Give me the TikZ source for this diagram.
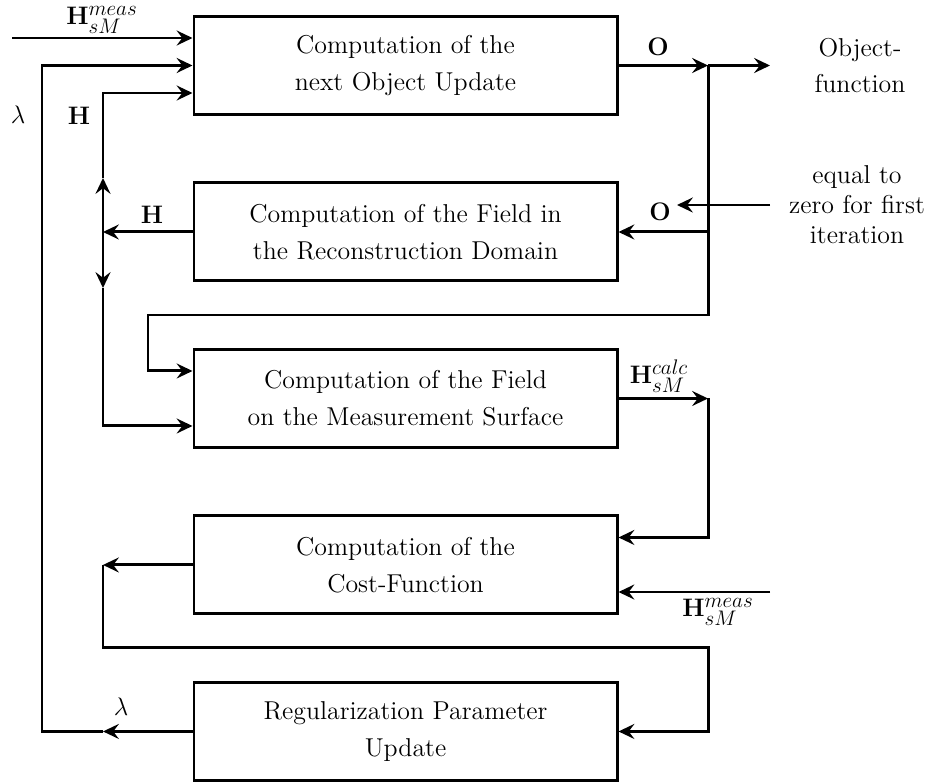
\documentclass[tikz,border=0pt]{standalone}
\usepackage{amsmath,amssymb}
\usepackage{tikz}
\usetikzlibrary{calc}
\usetikzlibrary{arrows.meta, positioning}
\DeclareMathSizes{14.7}{14.7}{11.5}{9}
\tikzset{>={Stealth[length=9pt, width=8.5pt, inset=3.2pt]}}
\tikzset{block/.style={draw, line width=1.7pt, minimum width=8.46cm, minimum height=1.96cm,
    align=center, font=\fontsize{14.7pt}{21pt}\selectfont},
  lbl/.style={font=\fontsize{14.7pt}{21pt}\selectfont},
  wire/.style={line width=1.7pt}}

\begin{document}
\begin{tikzpicture}[wire]
          \useasboundingbox (0, 0) rectangle (18.68, -15.68);
          % the five stages
          \node [block] (upd) at (8.11, -1.31) {Computation of the\\next Object Update};
          \node [block, below=1.31cm of upd] (dom) {Computation of the Field in\\the Reconstruction Domain};
          \node [block, below=1.31cm of dom] (surf) {Computation of the Field\\on the Measurement Surface};
          \node [block, below=1.31cm of surf] (cost) {Computation of the\\Cost-Function};
          \node [block, below=1.31cm of cost] (reg) {Regularization Parameter\\Update};
          % columns of the wires
          \coordinate (lx) at (0.84, 0);
          \coordinate (hx) at (2.06, 0);
          \coordinate (rx) at (14.16, 0);
          \coordinate (ex) at (15.4, 0);
          \coordinate (mstart) at (0.24, -0.76);
          \coordinate (hup) at (2.06, -3.56);
          \coordinate (hdn) at (2.06, -5.76);
          \coordinate (lp1) at (14.16, -6.30);
          \coordinate (lp2) at (2.96, -6.30);
          \coordinate (bot) at (14.16, -12.94);
          \coordinate (zstart) at (15.4, -4.10);
          \coordinate (ztip) at (13.54, -4.10);
          \coordinate (mmeas) at (15.4, -11.84);
          \node [lbl, align=center] (objf) at (17.2, -1.31) {Object-\\function};
          \node [lbl, align=center, font=\fontsize{14.7pt}{17pt}\selectfont] (zero) at (17.14, -4.10) {equal to\\zero for first\\iteration};
          % inputs of the object update
          \draw [->] (mstart) -- (mstart -| upd.west);
          \draw [->] (reg.west) -- (reg.west -| hx);
          \draw [->] (reg.west -| hx) -- (reg.west -| lx) -- (lx |- upd.west) -- (upd.west);
          \draw [->] (dom.west) -- (dom.west -| hx);
          \draw [->] (dom.west -| hx) -- (hup);
          \draw [->] (hup) |- ($(upd.west)+(0, -0.55)$);
          \draw [->] (dom.west -| hx) -- (hdn);
          \draw [->] (hdn) |- ($(surf.west)+(0, -0.55)$);
          % object out
          \draw [->] (upd.east) -- (upd.east -| rx);
          \draw [->] (upd.east -| rx) -- (upd.east -| ex);
          \draw [->] (upd.east -| rx) -- (lp1) -- (lp2) |- ($(surf.west)+(0, 0.55)$);
          \draw [->] (dom.east -| rx) -- (dom.east);
          \draw [->] (zstart) -- (ztip);
          % field and cost
          \draw [->] (surf.east) -- (surf.east -| rx);
          \draw [->] (surf.east -| rx) |- ($(cost.east)+(0, 0.55)$);
          \draw [->] (mmeas) -- (mmeas -| cost.east);
          \draw [->] (cost.west) -- (cost.west -| hx);
          \draw [->] (cost.west -| hx) |- (bot) |- (reg.east);
          % labels
          \node [lbl, inner sep=1pt] (lm1) at (2.04, -0.4) {$\mathbf{H}_{sM}^{meas}$};
          \node [lbl] (la1) at (0.36, -2.3) {$\lambda$};
          \node [lbl] (lh1) at (1.58, -2.32) {$\mathbf{H}$};
          \node [lbl] (lh2) at (3.04, -4.3) {$\mathbf{H}$};
          \node [lbl] (lo1) at (13.16, -0.94) {$\mathbf{O}$};
          \node [lbl] (lo2) at (13.2, -4.24) {$\mathbf{O}$};
          \node [lbl] (lc) at (13.18, -7.52) {$\mathbf{H}_{sM}^{calc}$};
          \node [lbl] (lm2) at (14.36, -12.24) {$\mathbf{H}_{sM}^{meas}$};
          \node [lbl] (la2) at (2.42, -14.14) {$\lambda$};
        \end{tikzpicture}
\end{document}
